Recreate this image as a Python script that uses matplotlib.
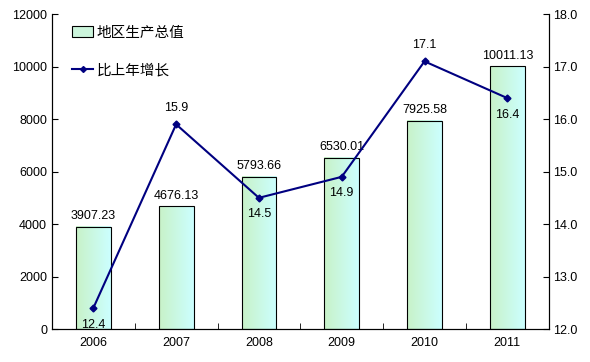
import matplotlib.pyplot as plt
import numpy as np
from matplotlib.colors import LinearSegmentedColormap
from matplotlib.patches import Patch
from matplotlib.lines import Line2D

plt.rcParams['font.family'] = ['Liberation Sans', 'Noto Sans CJK SC', 'DejaVu Sans']
plt.rcParams['font.size'] = 9

years = ['2006', '2007', '2008', '2009', '2010', '2011']
gdp = [3907.23, 4676.13, 5793.66, 6530.01, 7925.58, 10011.13]
growth = [12.4, 15.9, 14.5, 14.9, 17.1, 16.4]
gdp_labels = ['3907.23', '4676.13', '5793.66', '6530.01', '7925.58', '10011.13']
growth_labels = ['12.4', '15.9', '14.5', '14.9', '17.1', '16.4']
growth_above = [False, True, False, False, True, False]

fig = plt.figure(figsize=(5.9, 3.62), dpi=100)
ax = fig.add_axes([0.088, 0.091, 0.842, 0.870])
x = np.arange(len(years))
w = 0.42

cmap = LinearSegmentedColormap.from_list('g', ['#c8f2c8', '#ccffff'])
grad = np.linspace(0, 1, 64).reshape(1, -1)
bars = ax.bar(x, gdp, width=w, facecolor='none', edgecolor='black', linewidth=0.8, zorder=3)
for b in bars:
    ax.imshow(grad, cmap=cmap, aspect='auto', zorder=2,
              extent=[b.get_x(), b.get_x() + b.get_width(), 0, b.get_height()])
for xi, v, s in zip(x, gdp, gdp_labels):
    ax.text(xi, v + 180, s, ha='center', va='bottom', fontsize=9)

ax.set_xlim(-0.5, 5.5)
ax.set_ylim(0, 12000)
ax.set_yticks(range(0, 12001, 2000))
ax.set_xticks(x)
ax.set_xticklabels(years)
ax.set_xticks(np.arange(-0.5, 6, 1), minor=True)
ax.tick_params(axis='x', which='major', length=0, pad=6)
ax.tick_params(axis='x', which='minor', direction='in', length=4)
ax.tick_params(axis='y', direction='in', length=4)
ax.spines['top'].set_visible(False)

ax2 = ax.twinx()
ax2.plot(x, growth, color='#000080', linewidth=1.5, marker='D', markersize=3.5, zorder=4)
for xi, v, s, up in zip(x, growth, growth_labels, growth_above):
    if up:
        ax2.text(xi, v + 0.2, s, ha='center', va='bottom', fontsize=9)
    else:
        ax2.text(xi, v - 0.2, s, ha='center', va='top', fontsize=9)
ax2.set_ylim(12, 18)
ax2.set_yticks(np.arange(12, 18.1, 1))
ax2.set_yticklabels([f'{v:.1f}' for v in np.arange(12, 18.1, 1)])
ax2.tick_params(axis='y', direction='in', length=4)
ax2.spines['top'].set_visible(False)

handles = [Patch(facecolor='#ccf5dc', edgecolor='black', linewidth=0.8),
           Line2D([0], [0], color='#000080', linewidth=1.5, marker='D', markersize=3)]
ax.legend(handles, ['地区生产总值', '比上年增长'], loc='upper left',
          bbox_to_anchor=(0.015, 1.005), frameon=False, labelspacing=1.6,
          handlelength=1.4, handletextpad=0.25,
          prop={'family': ['Noto Sans CJK SC', 'DejaVu Sans'], 'size': 10.5})

fig.savefig('out.png', dpi=100)
